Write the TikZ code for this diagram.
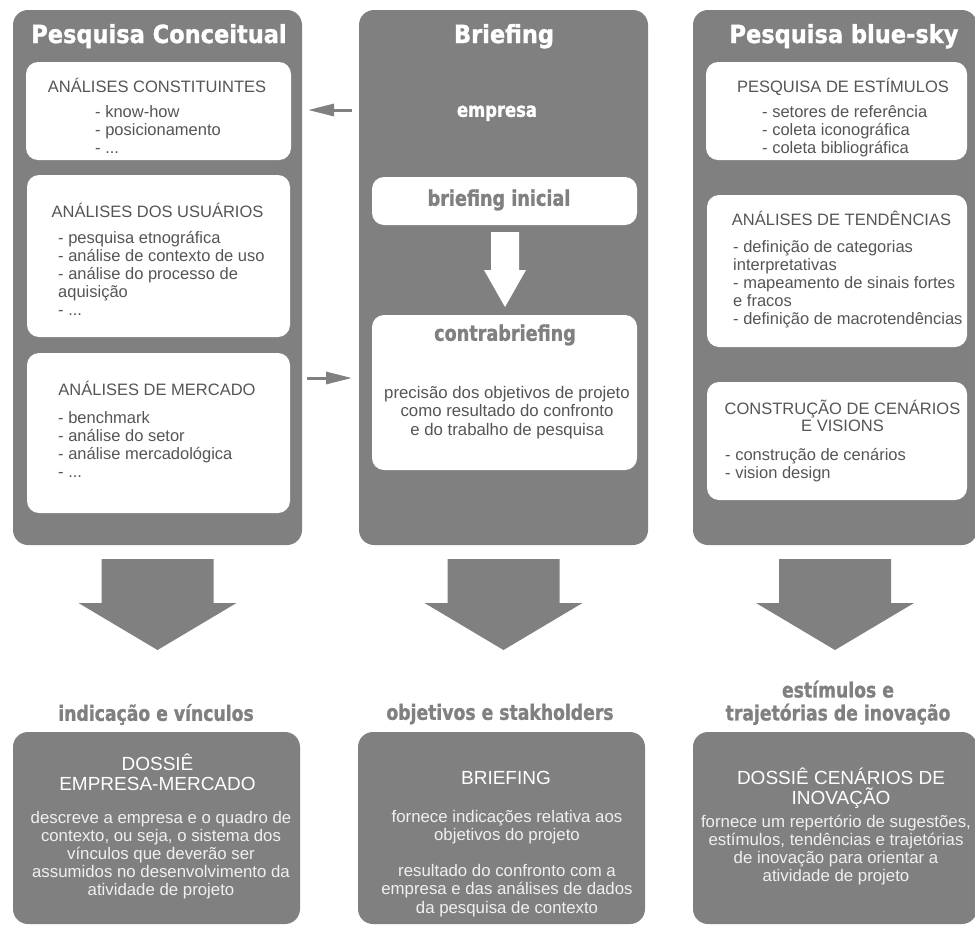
\documentclass[tikz,border=0pt]{standalone}
\usepackage{fontspec}
\setmainfont{Liberation Sans}
\newfontfamily\headfont[FakeStretch=0.9,FakeBold=1.2]{DejaVu Sans Bold}
\newfontfamily\subfont[FakeStretch=0.82,FakeBold=1.2]{DejaVu Sans Bold}
\newfontfamily\txtfont{Liberation Sans}
\usetikzlibrary{arrows.meta}
\definecolor{panelgray}{RGB}{128,128,128}
\definecolor{txtdark}{RGB}{85,85,85}
\begin{document}
\begin{tikzpicture}[x=1pt,y=-1pt,
  panel/.style={fill=panelgray,rounded corners=15pt,anchor=north west,inner sep=0pt,outer sep=0pt},
  wbox/.style={fill=white,rounded corners=12pt,anchor=north west,inner sep=0pt,outer sep=0pt},
  htitle/.style={font=\headfont\fontsize{25}{30}\selectfont,text=white,inner sep=0pt},
  hsub/.style={font=\subfont\fontsize{20}{24}\selectfont,inner sep=0pt,align=center},
  boxtitle/.style={font=\txtfont\fontsize{16.5}{18}\selectfont,text=txtdark,inner sep=0pt,align=center},
  items/.style={font=\txtfont\fontsize{16.5}{18}\selectfont,text=txtdark,inner sep=0pt,align=left,anchor=west},
  dtitle/.style={font=\txtfont\fontsize{19}{20}\selectfont,text=white,inner sep=0pt,align=center},
  dbody/.style={font=\txtfont\fontsize{16.8}{18}\selectfont,text=white!94!black,inner sep=0pt,align=center},
  sarrow/.style={draw=panelgray,line width=3pt,-{Triangle[length=26pt,width=12pt]}},
  blockarrow/.style={fill=panelgray},
]
% keep line spacing fixed even for lines with accented capitals
\lineskiplimit=-100pt
\useasboundingbox (0,0) rectangle (975,927);

% ---------- three research panels ----------
\node[panel,minimum width=289pt,minimum height=535pt] (pc) at (13,10) {};
\node[panel,minimum width=289pt,minimum height=535pt] (pb) at (359,10) {};
\node[panel,minimum width=284pt,minimum height=535pt] (pr) at (693,10) {};

\node[htitle] (tpc) at (159,37) {\strut Pesquisa Conceitual};
\node[htitle] (tpb) at (504,37) {\strut Briefing};
\node[htitle] (tpr) at (844,37) {\strut Pesquisa blue-sky};

% ---------- Pesquisa Conceitual ----------
\node[wbox,minimum width=265pt,minimum height=98pt] (l1) at (26,62) {};
\node[boxtitle] (l1t) at (157,88.4) {\strut ANÁLISES CONSTITUINTES};
\node[items] (l1i) at (95,131.4) {\strut- know-how\\\strut- posicionamento\\\strut- ...};

\node[wbox,minimum width=263pt,minimum height=162pt] (l2) at (27,175) {};
\node[boxtitle] (l2t) at (157.5,213.4) {\strut ANÁLISES DOS USUÁRIOS};
\node[items] (l2i) at (58,275.4) {\strut- pesquisa etnográfica\\\strut- análise de contexto de uso\\\strut- análise do processo de\\\strut aquisição\\\strut- ...};

\node[wbox,minimum width=263pt,minimum height=160pt] (l3) at (27,353) {};
\node[boxtitle] (l3t) at (157,391.4) {\strut ANÁLISES DE MERCADO};
\node[items] (l3i) at (58,446.4) {\strut- benchmark\\\strut- análise do setor\\\strut- análise mercadológica\\\strut- ...};

% ---------- Briefing ----------
\node[hsub,text=white] (emp) at (497,112) {\strut empresa};

\node[wbox,minimum width=265pt,minimum height=48pt] (bi) at (372,177) {};
\node[hsub,text=panelgray,font=\subfont\fontsize{21.5}{24}\selectfont] (bit) at (499,201) {\strut briefing inicial};

\node[wbox,minimum width=265pt,minimum height=155pt] (cb) at (372,315) {};
\node[hsub,text=panelgray,font=\subfont\fontsize{21.5}{24}\selectfont] (cbt) at (505,336) {\strut contrabriefing};
\node[boxtitle,font=\txtfont\fontsize{16.8}{18.5}\selectfont] (cbx) at (507,412.8) {\strut precisão dos objetivos de projeto\\\strut como resultado do confronto\\\strut e do trabalho de pesquisa};

% white arrow from briefing inicial down to contrabriefing
\fill[white,shift={(505,232)}] (-14,0) -- (14,0) -- (14,38) -- (21,38) -- (0,75) -- (-21,38) -- (-14,38) -- cycle;

% ---------- Pesquisa blue-sky ----------
\node[wbox,minimum width=261pt,minimum height=98pt] (r1) at (706,62) {};
\node[boxtitle] (r1t) at (843,88.4) {\strut PESQUISA DE ESTÍMULOS};
\node[items] (r1i) at (762,131.4) {\strut- setores de referência\\\strut- coleta iconográfica\\\strut- coleta bibliográfica};

\node[wbox,minimum width=260pt,minimum height=152pt] (r2) at (707,195) {};
\node[boxtitle] (r2t) at (841.5,221.4) {\strut ANÁLISES DE TENDÊNCIAS};
\node[items] (r2i) at (733,284.4) {\strut- definição de categorias\\\strut interpretativas\\\strut- mapeamento de sinais fortes\\\strut e fracos\\\strut- definição de macrotendências};

\node[wbox,minimum width=260pt,minimum height=118pt] (r3) at (707,382) {};
\node[boxtitle,font=\txtfont\fontsize{16.5}{17}\selectfont] (r3t) at (842.5,418) {\strut CONSTRUÇÃO DE CENÁRIOS\\\strut E VISIONS};
\node[items] (r3i) at (725,465.4) {\strut- construção de cenários\\\strut- vision design};

% ---------- links between panels ----------
\coordinate (s1) at (352,110);
\coordinate (s2) at (352,378);
\draw[sarrow,shorten >=6pt] (s1) -- (s1 -| pc.east);
\draw[sarrow] (s2 -| pc.east) ++(5,0) -- (s2);

% ---------- block arrows down to the results ----------
\fill[blockarrow,shift={(157.5,559)}] (-56,0) -- (56,0) -- (56,44) -- (79,44) -- (0,91) -- (-79,44) -- (-56,44) -- cycle;
\fill[blockarrow,shift={(503.5,559)}] (-56,0) -- (56,0) -- (56,44) -- (79,44) -- (0,91) -- (-79,44) -- (-56,44) -- cycle;
\fill[blockarrow,shift={(835,559)}] (-56,0) -- (56,0) -- (56,44) -- (79,44) -- (0,91) -- (-79,44) -- (-56,44) -- cycle;

% ---------- result headings ----------
\node[hsub,text=panelgray,font=\subfont\fontsize{21}{24}\selectfont] (h1) at (156,716) {\strut indicação e vínculos};
\node[hsub,text=panelgray,font=\subfont\fontsize{21}{24}\selectfont] (h2) at (500,715) {\strut objetivos e stakholders};
\node[hsub,text=panelgray,font=\subfont\fontsize{21}{23}\selectfont] (h3) at (838,704) {\strut estímulos e\\\strut trajetórias de inovação};

% ---------- result dossiers ----------
\node[panel,minimum width=287pt,minimum height=192pt] (dl) at (13,732) {};
\node[panel,minimum width=287pt,minimum height=192pt] (dm) at (358,732) {};
\node[panel,minimum width=284pt,minimum height=192pt] (dr) at (693,732) {};

\node[dtitle] (dlt) at (157.5,775) {\strut DOSSIÊ\\\strut EMPRESA-MERCADO};
\node[dbody] (dlb) at (161,855.4) {\strut descreve a empresa e o quadro de\\\strut contexto, ou seja, o sistema dos\\\strut vínculos que deverão ser\\\strut assumidos no desenvolvimento da\\\strut atividade de projeto};

\node[dtitle] (dmt) at (506,780) {\strut BRIEFING};
\node[dbody,font=\txtfont\fontsize{16.8}{18.2}\selectfont] (dmb) at (507,864) {\strut fornece indicações relativa aos\\\strut objetivos do projeto\\\strut\\\strut resultado do confronto com a\\\strut empresa e das análises de dados\\\strut da pesquisa de contexto};

\node[dtitle] (drt) at (841,789) {\strut DOSSIÊ CENÁRIOS DE\\\strut INOVAÇÃO};
\node[dbody] (drb) at (836,851) {\strut fornece um repertório de sugestões,\\\strut estímulos, tendências e trajetórias\\\strut de inovação para orientar a\\\strut atividade de projeto};
\end{tikzpicture}
\end{document}
